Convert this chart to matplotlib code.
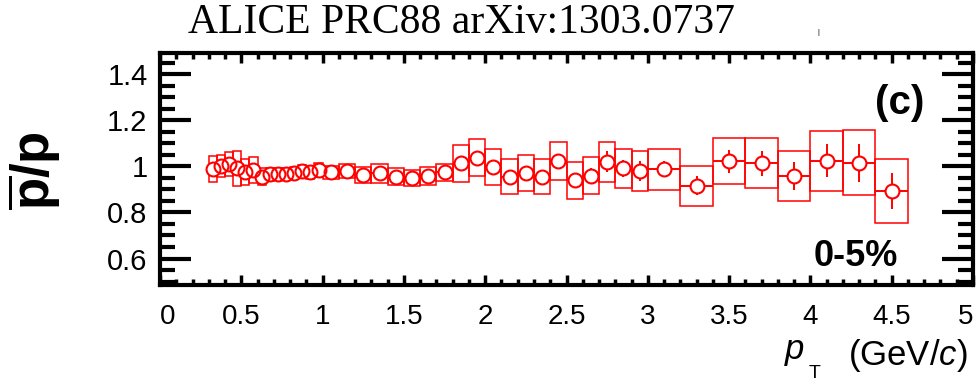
import matplotlib.pyplot as plt
import numpy as np
from matplotlib.ticker import MultipleLocator, FuncFormatter, NullFormatter

plt.rcParams['font.family'] = 'Liberation Sans'
plt.rcParams['mathtext.fontset'] = 'custom'
plt.rcParams['mathtext.rm'] = 'Liberation Sans'
plt.rcParams['mathtext.it'] = 'Liberation Sans:italic'
plt.rcParams['mathtext.bf'] = 'Liberation Sans:bold'

# pbar/p ratio, 0-5% centrality, bins in pT (GeV/c)
pt_lo = [0.30, 0.35, 0.40, 0.45, 0.50, 0.55, 0.60, 0.65, 0.70, 0.75, 0.80, 0.85, 0.90, 0.95,
         1.0, 1.1, 1.2, 1.3, 1.4, 1.5, 1.6, 1.7, 1.8, 1.9,
         2.0, 2.1, 2.2, 2.3, 2.4, 2.5, 2.6, 2.7, 2.8, 2.9,
         3.0, 3.2, 3.4, 3.6, 3.8, 4.0, 4.2, 4.4]
pt_hi = [0.35, 0.40, 0.45, 0.50, 0.55, 0.60, 0.65, 0.70, 0.75, 0.80, 0.85, 0.90, 0.95, 1.0,
         1.1, 1.2, 1.3, 1.4, 1.5, 1.6, 1.7, 1.8, 1.9, 2.0,
         2.1, 2.2, 2.3, 2.4, 2.5, 2.6, 2.7, 2.8, 2.9, 3.0,
         3.2, 3.4, 3.6, 3.8, 4.0, 4.2, 4.4, 4.6]
ratio = [0.988, 1.001, 1.009, 0.991, 0.974, 0.984, 0.955, 0.965, 0.967, 0.967, 0.970, 0.980, 0.974, 0.984,
         0.974, 0.980, 0.962, 0.970, 0.955, 0.948, 0.958, 0.974, 1.013, 1.037,
         0.997, 0.955, 0.970, 0.955, 1.024, 0.940, 0.959, 1.020, 0.991, 0.980,
         0.988, 0.916, 1.022, 1.013, 0.958, 1.024, 1.016, 0.894]
stat = [0.006, 0.006, 0.006, 0.006, 0.006, 0.006, 0.006, 0.006, 0.006, 0.006, 0.006, 0.006, 0.006, 0.006,
        0.006, 0.006, 0.006, 0.007, 0.007, 0.008, 0.008, 0.009, 0.012, 0.014,
        0.018, 0.018, 0.018, 0.018, 0.030, 0.030, 0.032, 0.045, 0.038, 0.045,
        0.035, 0.040, 0.050, 0.054, 0.060, 0.072, 0.082, 0.078]
syst = [0.056, 0.048, 0.053, 0.076, 0.056, 0.056, 0.038, 0.030, 0.028, 0.028, 0.027, 0.027, 0.028, 0.029,
        0.029, 0.031, 0.035, 0.042, 0.038, 0.035, 0.040, 0.038, 0.080, 0.080,
        0.080, 0.076, 0.078, 0.076, 0.083, 0.080, 0.080, 0.087, 0.085, 0.086,
        0.089, 0.087, 0.100, 0.108, 0.110, 0.130, 0.142, 0.138]
xtick_vals = [0, 0.5, 1, 1.5, 2, 2.5, 3, 3.5, 4, 4.5, 5]
xtick_labels = ['0', '0.5', '1', '1.5', '2', '2.5', '3', '3.5', '4', '4.5', '5']

lo = np.array(pt_lo)
hi = np.array(pt_hi)
pt = (lo + hi) / 2
y = np.array(ratio)
sy = np.array(syst)

fig = plt.figure(figsize=(9.78, 3.84), dpi=100)
ax = fig.add_axes([160/978, 1 - 285/384, (973 - 160)/978, (285 - 53)/384])

# systematic boxes
ax.bar(pt, 2*sy, bottom=y - sy, width=hi - lo, fill=False, edgecolor='red', linewidth=1.1, zorder=2)
# statistical errors
ax.errorbar(pt, y, yerr=stat, xerr=(hi - lo)/2, fmt='none', ecolor='red', elinewidth=1.4, capsize=0, zorder=3)
# open circles (white underlay hides the bar lines inside)
ax.plot(pt, y, 'o', ms=10, mfc='white', mec='none', zorder=4)
ax.plot(pt, y, 'o', ms=10, mfc='none', mec='red', mew=1.5, zorder=5)

ax.set_xlim(0, 5)
ax.set_ylim(0.485, 1.492)
ax.set_xticks(xtick_vals)
ax.xaxis.set_major_formatter(NullFormatter())
ax.xaxis.set_minor_locator(MultipleLocator(0.1))
ax.yaxis.set_major_locator(MultipleLocator(0.2))
ax.yaxis.set_minor_locator(MultipleLocator(0.05))
ax.yaxis.set_major_formatter(FuncFormatter(lambda v, p: '%g' % round(v, 2)))

ax.tick_params(axis='y', which='major', direction='in', length=22, width=3, right=True, labelsize=21, pad=9)
ax.tick_params(axis='y', which='minor', direction='in', length=11, width=3, right=True)
ax.tick_params(axis='x', which='major', direction='in', length=7, width=2.5, top=True)
ax.tick_params(axis='x', which='minor', direction='in', length=4, width=2.5, top=True)
for s in ax.spines.values():
    s.set_linewidth(3)

# x tick labels, end ones kept inside the figure
for v, lab in zip(xtick_vals, xtick_labels):
    ha = 'left' if v == xtick_vals[0] else ('right' if v == xtick_vals[-1] else 'center')
    ax.text(v, -0.14, lab, transform=ax.get_xaxis_transform(), ha=ha, va='center', fontsize=20)

fig.text(0.035, 1 - 171/384, r'$\mathbf{\overline{p}/p}$', rotation=90, fontsize=38, ha='center', va='center')
# x axis title: p_T (GeV/c)
fig.text(968/978, 1 - 355/384, '(GeV/$c$)', ha='right', va='center', fontsize=25)
fig.text(795/978, 1 - 350/384, 'p', style='italic', ha='center', va='center', fontsize=25)
fig.text(815/978, 1 - 373/384, 'T', ha='center', va='center', fontsize=14)
fig.text(462/978, 1 - 23/384, 'ALICE PRC88 arXiv:1303.0737', family='Liberation Serif', fontsize=30,
         ha='center', va='center')
fig.text(818/978, 1 - 32/384, '|', fontsize=5, ha='center', va='center')
fig.text(900/978, 1 - 103/384, '(c)', weight='bold', fontsize=29, ha='center', va='center')
fig.text(856/978, 1 - 257/384, '0-5%', weight='bold', fontsize=26, ha='center', va='center')

fig.savefig('out.png', dpi=100)
